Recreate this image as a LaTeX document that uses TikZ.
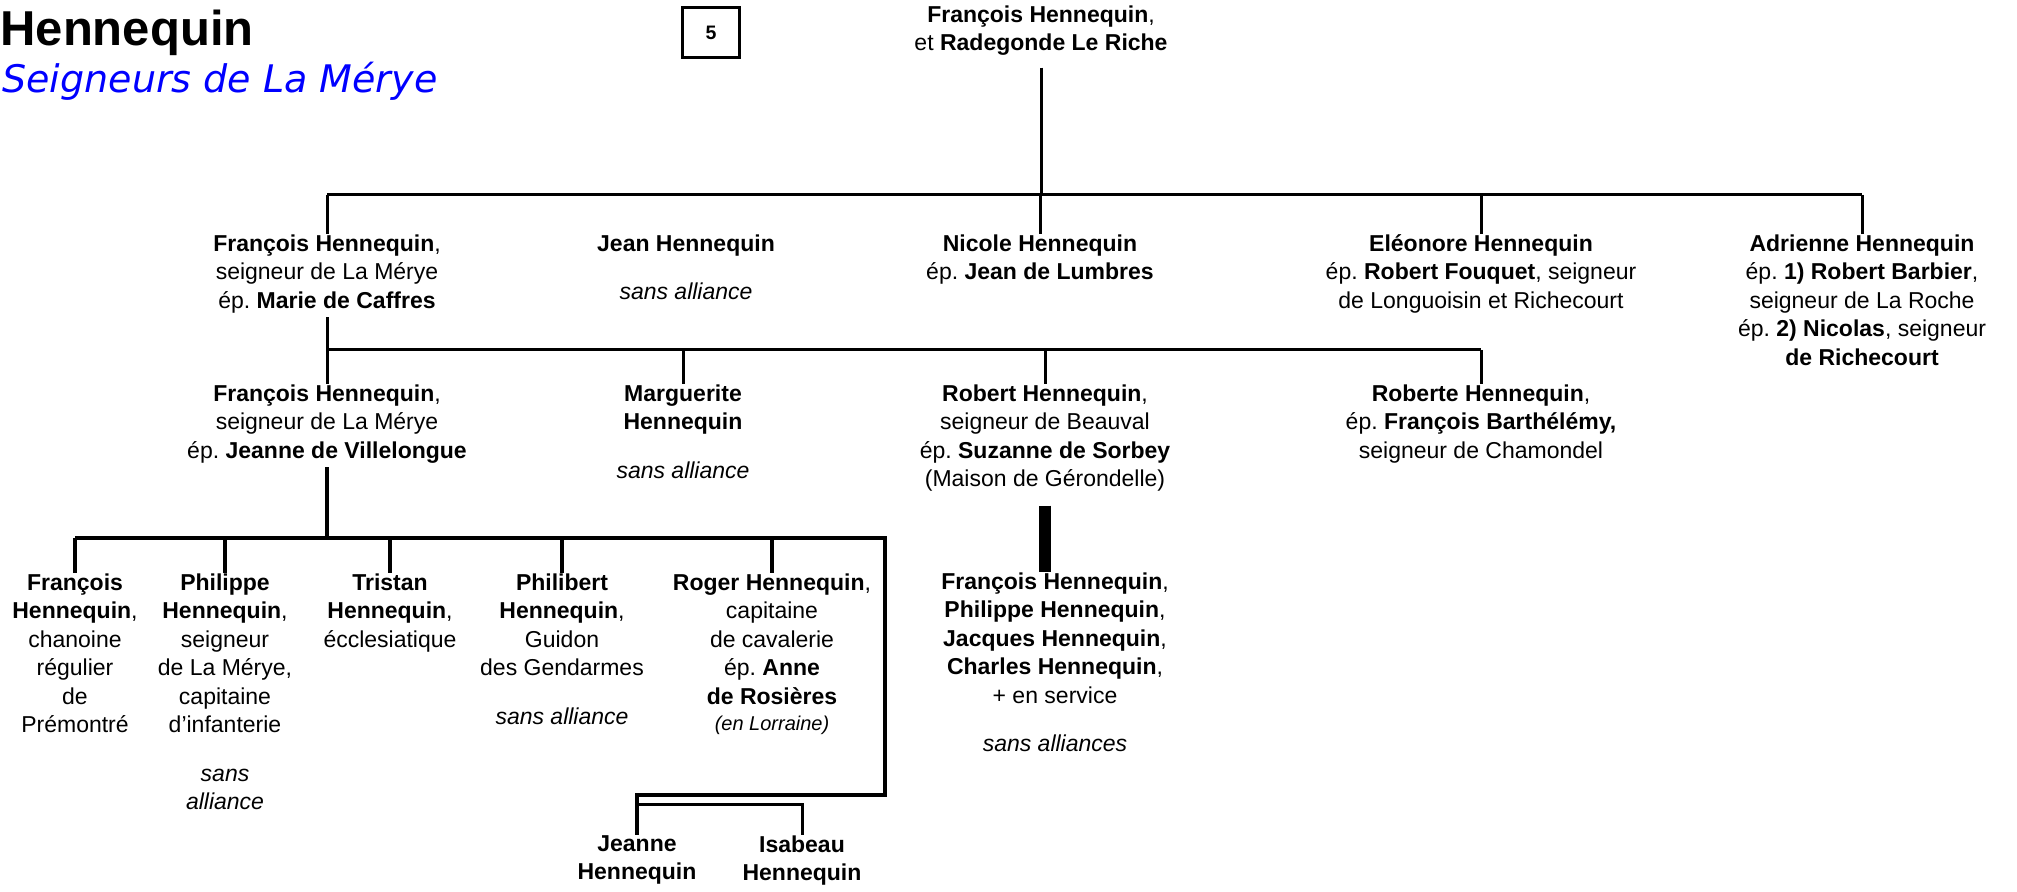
\documentclass[tikz,border=0pt]{standalone}
\usepackage{fontspec}
\setmainfont{Liberation Sans}
\newfontfamily\subtitlefont{DejaVu Sans}
\frenchspacing
\begin{document}
\begin{tikzpicture}[x=0.5pt, y=-0.5pt,
    person/.style={anchor=north, inner sep=0pt, align=center,
      font=\fontsize{11.5}{14.25}\selectfont, execute at begin node=\strut},
    tie/.style={line width=1.5pt},
    tiethick/.style={line width=1.8pt}]
  \useasboundingbox (0,0) rectangle (2017,892);

  \node[anchor=base west, inner sep=0pt, font=\fontsize{24.5}{29}\selectfont\bfseries] (titre) at (0,46) {Hennequin};
  \node[anchor=base west, inner sep=0pt, text=blue, font=\subtitlefont\itshape\fontsize{19}{23}\selectfont] (soustitre) at (2,93) {Seigneurs de La Mérye};
  \node[draw, line width=1.35pt, minimum width=28.65pt, minimum height=25.15pt, inner sep=0pt,
    font=\fontsize{9.75}{12}\selectfont\bfseries] (planche) at (711,32.5) {5};

  \node[person] (racine) at (1041,5) {\textbf{François Hennequin},\\ et \textbf{Radegonde Le Riche}};

  \node[person] (fr2) at (327,234) {\textbf{François Hennequin},\\ seigneur de La Mérye\\ ép. \textbf{Marie de Caffres}};
  \node[person] (je2) at (686,234) {\textbf{Jean Hennequin}\\[10pt] \textit{sans alliance}};
  \node[person] (ni2) at (1040,234) {\textbf{Nicole Hennequin}\\ ép. \textbf{Jean de Lumbres}};
  \node[person] (el2) at (1481,234) {\textbf{Eléonore Hennequin}\\ ép. \textbf{Robert Fouquet}, seigneur\\ de Longuoisin et Richecourt};
  \node[person] (ad2) at (1862,234) {\textbf{Adrienne Hennequin}\\ ép. \textbf{1) Robert Barbier},\\ seigneur de La Roche\\ ép. \textbf{2) Nicolas}, seigneur\\ \textbf{de Richecourt}};

  \node[person] (fr3) at (327,384) {\textbf{François Hennequin},\\ seigneur de La Mérye\\ ép. \textbf{Jeanne de Villelongue}};
  \node[person] (ma3) at (683,384) {\textbf{Marguerite}\\ \textbf{Hennequin}\\[10pt] \textit{sans alliance}};
  \node[person] (ro3) at (1045,384) {\textbf{Robert Hennequin},\\ seigneur de Beauval\\ ép. \textbf{Suzanne de Sorbey}\\ (Maison de Gérondelle)};
  \node[person] (rb3) at (1481,384) {\textbf{Roberte Hennequin},\\ ép. \textbf{François Barthélémy,}\\ seigneur de Chamondel};

  \node[person] (fr4) at (75,573) {\textbf{François}\\ \textbf{Hennequin},\\ chanoine\\ régulier\\ de\\ Prémontré};
  \node[person] (ph4) at (225,573) {\textbf{Philippe}\\ \textbf{Hennequin},\\ seigneur\\ de La Mérye,\\ capitaine\\ d’infanterie\\[10pt] \textit{sans}\\ \textit{alliance}};
  \node[person] (tr4) at (390,573) {\textbf{Tristan}\\ \textbf{Hennequin},\\ écclesiatique};
  \node[person] (pb4) at (562,573) {\textbf{Philibert}\\ \textbf{Hennequin},\\ Guidon\\ des Gendarmes\\[10pt] \textit{sans alliance}};
  \node[person] (rg4) at (772,573) {\textbf{Roger Hennequin},\\ capitaine\\ de cavalerie\\ ép. \textbf{Anne}\\ \textbf{de Rosières}\\[-1pt] {\fontsize{10}{12}\selectfont\itshape (en Lorraine)}};
  \node[person] (rc4) at (1055,572) {\textbf{François Hennequin},\\ \textbf{Philippe Hennequin},\\ \textbf{Jacques Hennequin},\\ \textbf{Charles Hennequin},\\ + en service\\[10pt] \textit{sans alliances}};

  \node[person] (je5) at (637,835) {\textbf{Jeanne}\\ \textbf{Hennequin}};
  \node[person] (is5) at (802,835) {\textbf{Isabeau}\\ \textbf{Hennequin}};

  \coordinate (g1) at (1041,195);
  \coordinate (g2) at (327,350);
  \coordinate (g3) at (327,538);
  \coordinate (g4) at (885,538);
  \coordinate (g5) at (885,795);
  \coordinate (g6) at (639,804);

  \draw[tie] ([yshift=-4pt]racine.south) -- (g1);
  \draw[tie] (fr2.north |- g1) -- (ad2.north |- g1);
  \foreach \n in {fr2, ni2, el2, ad2}
    \draw[tie] (\n.north |- g1) -- (\n.north);

  \draw[tie] (fr2.south) -- (g2) -- (rb3.north |- g2);
  \foreach \n in {fr3, ma3, ro3, rb3}
    \draw[tie] (\n.north |- g2) -- (\n.north);

  \draw[tiethick] (fr3.south) -- (g3);
  \draw[tiethick] (fr4.north |- g3) -- (g4) -- (g5) -- (je5.north |- g5) -- (je5.north);
  \foreach \n in {fr4, ph4, tr4, pb4, rg4}
    \draw[tiethick] (\n.north |- g3) -- (\n.north);
  \draw[tie] (je5.north |- g6) -- (is5.north |- g6) -- (is5.north);

  \draw[line width=6pt] ([yshift=-5pt]ro3.south) -- (ro3.south |- rc4.north);
\end{tikzpicture}
\end{document}
